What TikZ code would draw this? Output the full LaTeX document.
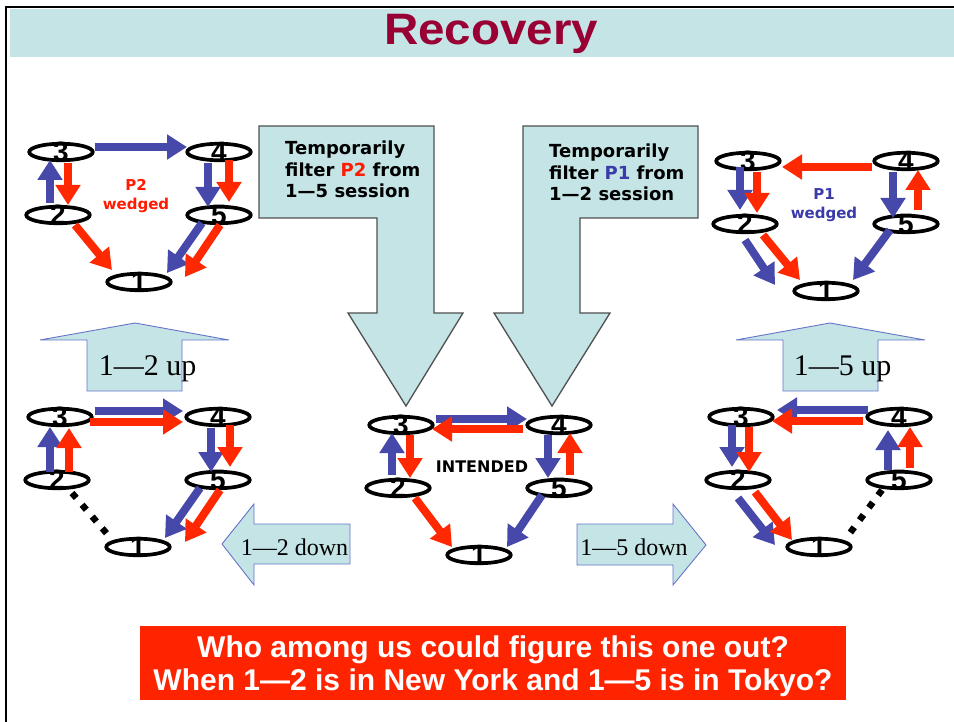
\documentclass[tikz,border=0pt]{standalone}
\usepackage{fontspec}
\setmainfont{Liberation Serif}
\setsansfont{Liberation Sans}
\newfontfamily\heavysans{DejaVu Sans}
\usetikzlibrary{arrows.meta,shapes.geometric,calc}

\definecolor{bandcyan}{HTML}{C4E4E6}
\definecolor{titlered}{HTML}{990033}
\definecolor{arblue}{HTML}{4648AA}
\definecolor{arred}{HTML}{FF2800}
\definecolor{boxred}{HTML}{FF2400}
\definecolor{edgeblue}{HTML}{6674C8}
\definecolor{pblue}{HTML}{3A3AA8}
\definecolor{pred}{HTML}{FF1A00}
\definecolor{outlinegray}{HTML}{505050}

\newcommand\fsz[2]{\fontsize{#1}{#2}\selectfont}

% five routers of one ring: 3 and 4 on top, 2 and 5 in the middle, 1 at the bottom
\newcommand\ringgraph[3]{%
  \node[ring,label={[digit]center:3}] (#1-3) at (#2,#3) {};
  \node[ring,label={[digit]center:4}] (#1-4) at ({#2+158},#3) {};
  \node[ring,label={[digit]center:2}] (#1-2) at ({#2-3},{#3+63}) {};
  \node[ring,label={[digit]center:5}] (#1-5) at ({#2+158},{#3+63}) {};
  \node[ring,label={[digit]center:1}] (#1-1) at ({#2+78},{#3+130}) {};
}
% one path arrow between two routers, each end offset from the router centre
\newcommand\link[5]{\draw[#1] ($(#2)+(#3)$) -- ($(#4)+(#5)$);}

\tikzset{
  ring/.style={ellipse,draw=black,line width=3.7pt,minimum width=63.5pt,
    minimum height=16.5pt,inner sep=0pt},
  digit/.style={font=\sffamily\bfseries\fsz{28}{28},inner sep=0pt,text=black},
  ba/.style={draw=arblue,line width=8pt,-{Triangle[length=20pt,width=24pt]}},
  ra/.style={draw=arred,line width=8pt,-{Triangle[length=20pt,width=24pt]}},
  dots/.style={draw=black,line width=6.5pt,dash pattern=on 6.5pt off 9pt},
  bigarrow/.style={fill=bandcyan,draw=outlinegray,line width=1.3pt,line join=miter},
  midarrow/.style={fill=bandcyan,draw=edgeblue,line width=0.9pt,line join=miter},
  filtertext/.style={font=\heavysans\bfseries\fsz{18}{21.5},align=left,inner sep=0pt,anchor=north west},
  midtext/.style={font=\fsz{30}{30},inner sep=0pt,anchor=base},
  smalltext/.style={font=\fsz{24}{24},inner sep=0pt,anchor=base},
  wedge/.style={font=\heavysans\bfseries\fsz{15}{18.5},align=center,inner sep=0pt},
  question/.style={font=\sffamily\bfseries\fsz{30}{30},text=white,inner sep=0pt,anchor=base},
}

\begin{document}
\begin{tikzpicture}[x=1pt,y=-1pt]
\useasboundingbox (0,0) rectangle (954,722);

% slide frame and title band
\fill[bandcyan] (10,9.5) rectangle (954,57);
\draw[line width=2.2pt] (6,722) -- (6,7) -- (954,7);
\node[anchor=base,font=\sffamily\bfseries\fsz{44}{44},text=titlered,inner sep=0pt]
  (title) at (491,45) {\scalebox{1.08}[1]{Recovery}};

% the two large filter arrows
\draw[bigarrow] (259,126) -- (434,126) -- (434,313) -- (463,313) -- (406,406)
  -- (348,313) -- (377,313) -- (377,218) -- (259,218) -- cycle;
\draw[bigarrow] (523,126) -- (698,126) -- (698,218) -- (580,218) -- (580,313)
  -- (610,313) -- (552,406) -- (494,313) -- (523,313) -- cycle;
\node[filtertext] (filterP2) at (285,141)
  {Temporarily\\filter \textcolor{pred}{P2} from\\1—5 session};
\node[filtertext] (filterP1) at (549,144)
  {Temporarily\\filter \textcolor{pblue}{P1} from\\1—2 session};

% link state arrows
\draw[midarrow] (87,391) -- (87,340) -- (40,340) -- (135,323) -- (229,340)
  -- (182,340) -- (182,391) -- cycle;
\node[midtext] (up12) at (147.5,375) {1—2 up};
\draw[midarrow] (783,391) -- (783,340) -- (736,340) -- (830,323) -- (925,340)
  -- (878,340) -- (878,391) -- cycle;
\node[midtext] (up15) at (842.5,375) {1—5 up};
\draw[midarrow] (350,524) -- (254,524) -- (254,504) -- (222,544) -- (254,585)
  -- (254,564) -- (350,564) -- cycle;
\node[smalltext] (down12) at (294.5,555) {1—2 down};
\draw[midarrow] (577,524) -- (673,524) -- (673,504) -- (706,545) -- (673,585)
  -- (673,565) -- (577,565) -- cycle;
\node[smalltext] (down15) at (634,555) {1—5 down};

% ---- P2 wedged (top left)
\ringgraph{tl}{61}{152}
\node[wedge,text=pred] (tlnote) at (136,196) {P2\\wedged};
\link{ba}{tl-3}{34,-5}{tl-4}{-32,-5}
\link{ba}{tl-2}{-8,-12}{tl-3}{-11,8}
\link{ra}{tl-3}{7,11}{tl-2}{10,-10}
\link{ra}{tl-2}{17,10}{tl-1}{-27,-12}
\link{ba}{tl-4}{-11,11}{tl-5}{-11,-8}
\link{ra}{tl-4}{10,8}{tl-5}{10,-13}
\link{ba}{tl-5}{-17,8}{tl-1}{28,-9}
\link{ra}{tl-5}{1,10}{tl-1}{46,-5}

% ---- P1 wedged (top right)
\ringgraph{tr}{748}{161}
\node[wedge,text=pblue] (trnote) at (824,205) {P1\\wedged};
\link{ra}{tr-4}{-34,6}{tr-3}{34,6}
\link{ba}{tr-3}{-8,6}{tr-2}{-5,-14}
\link{ra}{tr-3}{9,11}{tr-2}{12,-11}
\link{ba}{tr-2}{0,16}{tr-1}{-51,-6}
\link{ra}{tr-2}{18,11}{tr-1}{-26,-11}
\link{ba}{tr-4}{-13,11}{tr-5}{-13,-6}
\link{ra}{tr-5}{12,-14}{tr-4}{12,9}
\link{ba}{tr-5}{-16,6}{tr-1}{27,-11}

% ---- intended paths (centre)
\ringgraph{md}{401}{425}
\node[font=\heavysans\bfseries\fsz{16}{16},inner sep=0pt] (mdnote) at (482,467) {INTENDED};
\link{ba}{md-3}{35,-6}{md-4}{-32,-6}
\link{ra}{md-4}{-36,4}{md-3}{31,4}
\link{ba}{md-2}{-6,-13}{md-3}{-9,8}
\link{ra}{md-3}{9,10}{md-2}{12,-10}
\link{ra}{md-2}{17,10}{md-1}{-27,-8}
\link{ba}{md-4}{-11,10}{md-5}{-11,-10}
\link{ra}{md-5}{11,-13}{md-4}{11,8}
\link{ba}{md-5}{-17,7}{md-1}{28,-8}

% ---- 1-2 down (bottom left)
\ringgraph{bl}{60}{417}
\link{ba}{bl-3}{35,-6}{bl-4}{-35,-6}
\link{ra}{bl-3}{30,5}{bl-4}{-35,5}
\link{ba}{bl-2}{-7,-8}{bl-3}{-10,10}
\link{ra}{bl-2}{12,-8}{bl-3}{9,11}
\link{dots}{bl-2}{15,13}{bl-1}{-30,-12}
\link{ba}{bl-4}{-7,11}{bl-5}{-7,-8}
\link{ra}{bl-4}{12,8}{bl-5}{12,-13}
\link{ba}{bl-5}{-18,8}{bl-1}{27,-9}
\link{ra}{bl-5}{2,10}{bl-1}{47,-5}

% ---- 1-5 down (bottom right)
\ringgraph{br}{741}{417}
\link{ba}{br-4}{-31,-7}{br-3}{36,-7}
\link{ra}{br-4}{-36,4}{br-3}{31,4}
\link{ba}{br-3}{-9,8}{br-2}{-6,-13}
\link{ra}{br-3}{8,10}{br-2}{11,-8}
\link{ba}{br-2}{0,18}{br-1}{-44,-2}
\link{ra}{br-2}{17,12}{br-1}{-27,-7}
\link{ba}{br-5}{-11,-10}{br-4}{-11,13}
\link{ra}{br-5}{11,-12}{br-4}{11,10}
\link{dots}{br-5}{-17,10}{br-1}{31,-14}

% closing question
\fill[boxred] (140,626) rectangle (846,700);
\node[question] (q1) at (493,657) {Who among us could figure this one out?};
\node[question] (q2) at (493,690) {When 1—2 is in New York and 1—5 is in Tokyo?};
\end{tikzpicture}
\end{document}
